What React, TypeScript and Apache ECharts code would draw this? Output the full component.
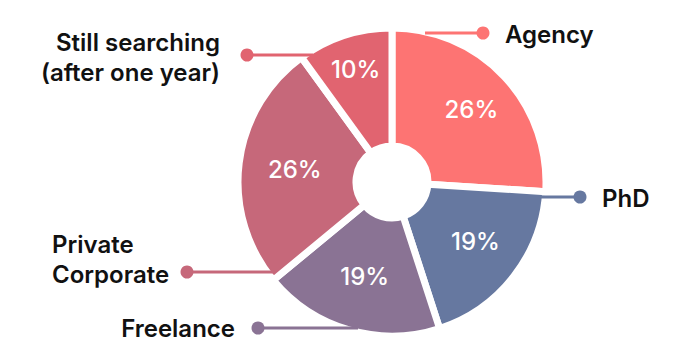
import React, { useEffect, useRef } from "react";
import * as echarts from "echarts";

// ---- data ----
const categories = [
  "Agency",
  "PhD",
  "Freelance",
  "Private\nCorporate",
  "Still searching\n(after one year)",
];
const shares = [26, 19, 19, 26, 10];
const colors = ["#FD7473", "#6678A0", "#8A7394", "#C6687A", "#E16470"];

// ---- layout of outside labels (pixel positions in the 700x364 canvas) ----
type Place = {
  x: number;
  y: number;
  align: "left" | "right";
  line: number[][];
  dot: [number, number];
};
const placements: Place[] = [
  { x: 505, y: 34, align: "left", line: [[425, 33], [455, 33], [483, 33]], dot: [483, 33] },
  { x: 602, y: 198, align: "left", line: [[536, 197], [560, 197], [580, 197]], dot: [580, 197] },
  { x: 235, y: 328, align: "right", line: [[358, 328], [300, 328], [258, 328]], dot: [258, 328] },
  { x: 52, y: 259, align: "left", line: [[275, 272], [230, 272], [187, 272]], dot: [187, 272] },
  { x: 220, y: 57, align: "right", line: [[313, 55], [280, 55], [247, 55]], dot: [247, 55] },
];
// small nudges of the inner percentage labels
const innerNudge: [number, number][] = [
  [8, -5],
  [6, -1],
  [0, 0],
  [0, 0],
  [-6, -19],
];

const CENTER: [number, number] = [392, 182];

export default function App() {
  const ref = useRef<HTMLDivElement>(null);
  useEffect(() => {
    if (!ref.current) return;
    const chart = echarts.init(ref.current, undefined, { renderer: "svg" });
    const data = categories.map((name, i) => ({
      name,
      value: shares[i],
      itemStyle: { color: colors[i] },
    }));
    const font = "Inter, 'Noto Sans', 'DejaVu Sans', sans-serif";
    chart.setOption({
      animation: false,
      backgroundColor: "#ffffff",
      series: [
        {
          type: "pie",
          z: 2,
          center: CENTER,
          radius: [36, 154],
          startAngle: 90,
          clockwise: true,
          silent: true,
          emphasis: { disabled: true },
          itemStyle: { borderColor: "#ffffff", borderWidth: 7 },
          label: {
            show: true,
            position: "inside",
            formatter: "{c}%",
            color: "#ffffff",
            fontSize: 24,
            fontWeight: 500,
            fontFamily: font,
          },
          labelLine: { show: false },
          labelLayout: (p: any) => {
            const n = innerNudge[p.dataIndex] || [0, 0];
            return { dx: n[0], dy: n[1] };
          },
          data,
        },
        {
          type: "pie",
          z: 6,
          center: CENTER,
          radius: [36, 154],
          startAngle: 90,
          clockwise: true,
          silent: true,
          emphasis: { disabled: true },
          itemStyle: { color: "rgba(0,0,0,0)", borderWidth: 0 },
          label: {
            show: true,
            position: "outside",
            formatter: "{b}",
            color: "#111111",
            fontSize: 24,
            fontWeight: 600,
            lineHeight: 30,
            fontFamily: font,
          },
          labelLine: { show: true, lineStyle: { width: 3 } },
          labelLayout: (p: any) => {
            const pl = placements[p.dataIndex];
            return {
              x: pl.x,
              y: pl.y,
              align: pl.align,
              verticalAlign: "middle",
              labelLinePoints: pl.line,
            };
          },
          data: categories.map((name, i) => ({
            name,
            value: shares[i],
            itemStyle: { color: "rgba(0,0,0,0)" },
            labelLine: { lineStyle: { color: colors[i], width: 3 } },
          })),
        },
      ],
      graphic: placements.map((pl, i) => ({
        type: "circle",
        shape: { cx: pl.dot[0], cy: pl.dot[1], r: 6.5 },
        style: { fill: colors[i] },
        z: 100,
      })),
    });
    return () => chart.dispose();
  }, []);
  return (
    <div
      ref={ref}
      style={{ position: "absolute", left: 0, top: 0, width: 700, height: 364 }}
    />
  );
}
